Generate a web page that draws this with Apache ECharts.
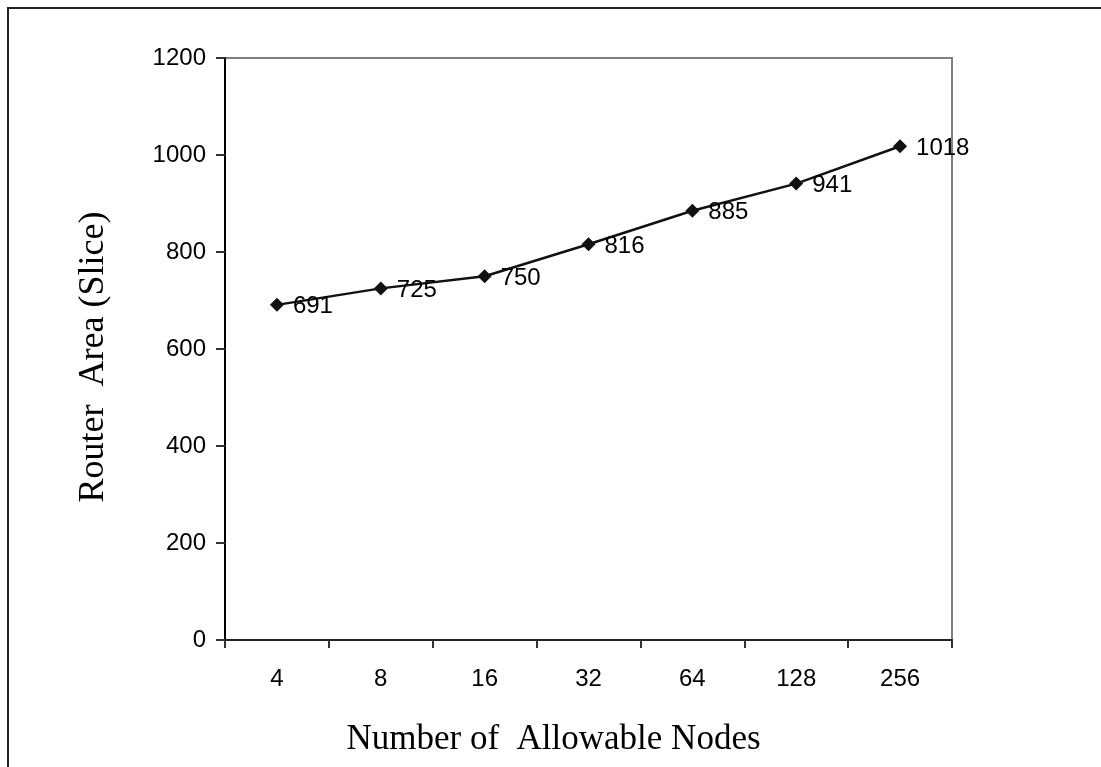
<!DOCTYPE html>
<html><head><meta charset="utf-8">
<script src="https://cdn.jsdelivr.net/npm/echarts@6/dist/echarts.min.js"></script>
<style>html,body{margin:0;padding:0;background:#fff}#c{width:1101px;height:767px}</style>
</head><body><div id="c"></div>
<script>
var categories = ['4','8','16','32','64','128','256'];
var values = [691, 725, 750, 816, 885, 941, 1018];
var yTicks = [0, 200, 400, 600, 800, 1000, 1200];

var chart = echarts.init(document.getElementById('c'), null, {renderer:'canvas'});
chart.setOption({
  animation:false,
  backgroundColor:'#fff',
  graphic:[{type:'rect', shape:{x:8,y:8,width:1200,height:900}, style:{fill:'none', stroke:'#222', lineWidth:2}, z:-1}],
  grid:{left:225, right:149, top:58, bottom:127, show:true, borderColor:'#808080', borderWidth:2, backgroundColor:'transparent'},
  xAxis:{type:'category', data:categories, boundaryGap:true,
    name:'Number of  Allowable Nodes', nameLocation:'middle', nameGap:82,
    nameTextStyle:{fontFamily:'Liberation Serif', fontSize:35, color:'#000', padding:[0,70,0,0]},
    axisLine:{lineStyle:{color:'#222', width:2}},
    axisTick:{show:true, length:8, lineStyle:{color:'#333', width:2}, alignWithLabel:false},
    axisLabel:{fontFamily:'Liberation Sans', fontSize:24, color:'#000', margin:27}},
  yAxis:{type:'value', min:yTicks[0], max:yTicks[yTicks.length-1], interval:200,
    name:'Router  Area (Slice)', nameLocation:'middle', nameGap:113,
    nameTextStyle:{fontFamily:'Liberation Serif', fontSize:36, color:'#000', padding:[0,16,0,0]},
    axisLine:{show:true, lineStyle:{color:'#000', width:2}},
    axisTick:{show:true, length:9, lineStyle:{color:'#333', width:2}},
    splitLine:{show:false},
    axisLabel:{fontFamily:'Liberation Sans', fontSize:24, color:'#000', margin:19, formatter:function(v){return String(v);}}},
  series:[{type:'line', data:values, symbol:'diamond', symbolSize:14,
    itemStyle:{color:'#111'}, lineStyle:{color:'#111', width:2.5},
    label:{show:true, position:'right', distance:9, offset:[0,2], fontFamily:'Liberation Sans', fontSize:24, color:'#000'}}]
});
</script></body></html>
